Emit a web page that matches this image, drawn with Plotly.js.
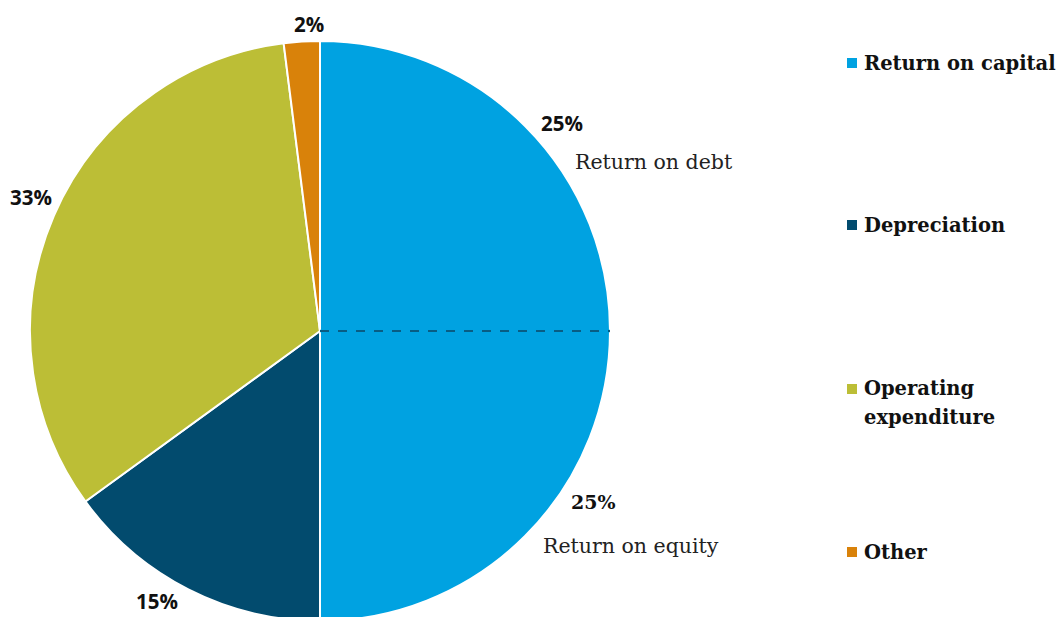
<!DOCTYPE html>
<html>
<head>
<meta charset="utf-8">
<script src="https://cdn.plot.ly/plotly-3.0.1.min.js"></script>
<style>
  html, body { margin: 0; padding: 0; background: #fff; overflow: hidden; }
  #chart { width: 1059px; height: 625px; }
</style>
</head>
<body>
<div id="chart"></div>
<script>
// Revenue building blocks (share of total, %)
const sliceLabels = ['Return on debt', 'Return on equity', 'Depreciation', 'Operating expenditure', 'Other'];
const sliceValues = [25, 25, 15, 33, 2];
const sliceColors = ['#00A2E1', '#00A2E1', '#024B6E', '#BCBE36', '#D9820A'];

// Legend groups (the two returns are shown together as "Return on capital")
const legendLabels = [['Return on capital'], ['Depreciation'], ['Operating', 'expenditure'], ['Other']];
const legendColors = ['#00A2E1', '#024B6E', '#BCBE36', '#D9820A'];

const W = 1059, H = 625;
const px = x => x / W;
const py = y => 1 - y / H;

// Pie placement: centre (320, 331), radius 290 px
const cx = 320, cy = 331, R = 290;
const dom = { x: [px(cx - R), px(cx + R)], y: [py(cy + R), py(cy - R)] };

const pie = {
  type: 'pie',
  labels: sliceLabels,
  values: sliceValues,
  sort: false,
  direction: 'clockwise',
  rotation: 0,
  textinfo: 'none',
  hoverinfo: 'label+percent',
  showlegend: false,
  domain: dom,
  marker: { colors: sliceColors, line: { color: '#ffffff', width: 2 } }
};

const SERIF = '"DejaVu Serif", "Liberation Serif", serif';
const sansBold = { family: '"Open Sans", Lato, sans-serif', size: 20.5, color: '#111' };
const serifBold = { family: SERIF, size: 19, color: '#111' };
const serif = { family: SERIF, size: 20.5, color: '#222' };
const legendFont = { family: SERIF, size: 19.5, color: '#111' };

const annotations = [];
function note(text, x, y, font) {
  annotations.push({ text, x: px(x), y: py(y), xref: 'paper', yref: 'paper',
    xanchor: 'left', yanchor: 'middle', showarrow: false, font });
}

// Percentage labels
note('<b>' + sliceValues[0] + '%</b>', 539, 123, sansBold);
note(sliceLabels[0], 573, 162, serif);
note('<b>' + sliceValues[1] + '%</b>', 569, 502, serifBold);
note(sliceLabels[1], 541, 546, serif);
note('<b>' + sliceValues[3] + '%</b>', 8, 197, sansBold);
note('<b>' + sliceValues[2] + '%</b>', 134, 601, sansBold);
note('<b>' + sliceValues[4] + '%</b>', 292, 24, sansBold);

// Legend: one marker per group, wrapped names on separate lines
const legendY = [63, 225, 389, 552];
const lineGap = 29;
const shapes = [];
legendLabels.forEach((lines, i) => {
  const y = legendY[i];
  shapes.push({ type: 'rect', xref: 'paper', yref: 'paper',
    x0: px(847), x1: px(857), y0: py(y + 5), y1: py(y - 5),
    fillcolor: legendColors[i], line: { width: 0 } });
  lines.forEach((ln, j) => note('<b>' + ln + '</b>', 862, y + j * lineGap, legendFont));
});

// Divider between return on debt and return on equity
const pcx = (dom.x[0] + dom.x[1]) / 2, pcy = (dom.y[0] + dom.y[1]) / 2;
shapes.push({ type: 'line', xref: 'paper', yref: 'paper', x0: pcx, y0: pcy, x1: dom.x[1], y1: pcy,
  line: { color: sliceColors[0], width: 2.5 } });
shapes.push({ type: 'line', xref: 'paper', yref: 'paper', x0: pcx, y0: pcy, x1: dom.x[1], y1: pcy,
  line: { color: '#0B4766', width: 1.3, dash: 'dash' } });

Plotly.newPlot('chart', [pie], {
  width: W, height: H,
  margin: { l: 0, r: 0, t: 0, b: 0 },
  paper_bgcolor: '#fff',
  annotations, shapes
}, { staticPlot: true });
</script>
</body>
</html>
